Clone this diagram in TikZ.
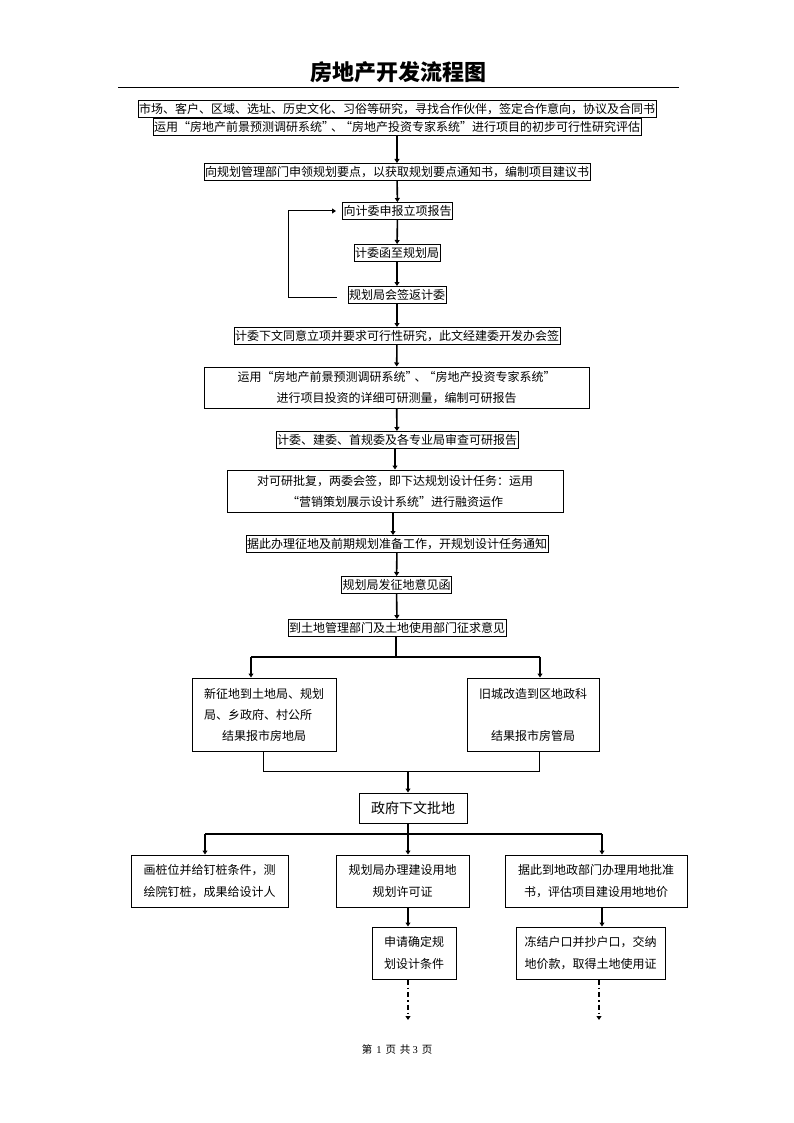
\documentclass[tikz,border=0pt]{standalone}
\usepackage{fontspec}
\usetikzlibrary{arrows.meta}
\newfontfamily\cjk{Noto Sans CJK SC}
\newfontfamily\serifnum{Liberation Serif}
\newcommand{\dunq}{”\kern-3pt、\kern-3pt“}
\begin{document}
\begin{tikzpicture}[x=1pt,y=-1pt,
  box/.style={draw,line width=1pt,inner xsep=1pt,inner ysep=0pt,minimum height=17pt,font=\cjk\fontsize{12}{14}\selectfont},
  bigbox/.style={draw,line width=1pt,inner sep=0pt,align=center,font=\cjk\fontsize{12}{21}\selectfont},
  lowbox/.style={draw,line width=1pt,inner sep=0pt,align=center,font=\cjk\fontsize{12}{22.5}\selectfont},
  arr/.style={line width=1.6pt,-{Triangle[length=4pt,width=5pt]}},
  thin/.style={line width=1pt},
  thinarr/.style={line width=1pt,-{Triangle[length=4pt,width=5pt]}},
  dasharr/.style={line width=1.6pt,dash pattern=on 5pt off 3pt on 1.5pt off 3pt,-{Triangle[length=4pt,width=5pt]}}]
\useasboundingbox[fill=white] (0,0) rectangle (794,1123);

\node[font=\cjk\bfseries\fontsize{22}{24}\selectfont] (title) at (398,72) {房地产开发流程图};
\coordinate (rl) at (118,87);
\coordinate (rr) at (679,87);
\draw[line width=0.9pt] (rl) -- (rr);

\node[box] (b1) at (397,109) {市场、客户、区域、选址、历史文化、习俗等研究，寻找合作伙伴，签定合作意向，协议及合同书};
\node[box] (b2) at (397,127) {运用“房地产前景预测调研系统\dunq 房地产投资专家系统”进行项目的初步可行性研究评估};
\node[box] (b3) at (397,172) {向规划管理部门申领规划要点，以获取规划要点通知书，编制项目建议书};
\node[box] (b4) at (397.5,211) {向计委申报立项报告};
\node[box] (b5) at (397,253) {计委函至规划局};
\node[box] (b6) at (397,295) {规划局会签返计委};
\node[box] (b7) at (397,336) {计委下文同意立项并要求可行性研究，此文经建委开发办会签};
\node[bigbox,minimum width=385pt,minimum height=41pt] (b8) at (396.5,387.5) {运用“房地产前景预测调研系统\dunq 房地产投资专家系统”\\进行项目投资的详细可研测量，编制可研报告};
\node[box] (b9) at (397,440) {计委、建委、首规委及各专业局审查可研报告};
\node[bigbox,minimum width=336pt,minimum height=42pt] (b10) at (395,491) {对可研批复，两委会签，即下达规划设计任务：运用\\“营销策划展示设计系统”进行融资运作};
\node[box] (b11) at (397,544) {据此办理征地及前期规划准备工作，开规划设计任务通知};
\node[box] (b12) at (396.5,585) {规划局发征地意见函};
\node[box] (b13) at (397,628) {到土地管理部门及土地使用部门征求意见};

\node[bigbox,align=left,minimum width=144pt,minimum height=73pt] (b14) at (264,714.5) {新征地到土地局、规划\\局、乡政府、村公所\\\hspace*{18pt}结果报市房地局};
\node[bigbox,minimum width=132pt,minimum height=73pt] (b15) at (533,714.5) {旧城改造到区地政科\\~\\结果报市房管局};
\node[draw,line width=1pt,inner sep=0pt,minimum width=108pt,minimum height=30pt,font=\cjk\fontsize{14}{16}\selectfont] (b16) at (413,808) {政府下文批地};

\node[lowbox,minimum width=157pt,minimum height=52pt] (b17) at (209.5,881) {画桩位并给钉桩条件，测\\绘院钉桩，成果给设计人};
\node[lowbox,minimum width=133pt,minimum height=52pt] (b18) at (402.5,881) {规划局办理建设用地\\规划许可证};
\node[lowbox,minimum width=182pt,minimum height=52pt] (b19) at (596,881) {据此到地政部门办理用地批准\\书，评估项目建设用地地价};
\node[lowbox,minimum width=84pt,minimum height=52pt] (b20) at (414,953) {申请确定规\\划设计条件};
\node[lowbox,minimum width=149pt,minimum height=52pt] (b21) at (590.5,953) {冻结户口并抄户口，交纳\\地价款，取得土地使用证};

\node[font=\cjk\fontsize{10.5}{12}\selectfont] (foot) at (397,1049) {第\hspace{4pt}{\serifnum 1}\hspace{4pt}页\hspace{4pt}共\hspace{2pt}{\serifnum 3}\hspace{4pt}页};

% main trunk
\draw[arr] (b2) -- (b3);
\draw[arr] (b3) -- (b4);
\draw[arr] (b4) -- (b5);
\draw[arr] (b5) -- (b6);
\draw[arr] (b6) -- (b7);
\draw[arr] (b7) -- (b8);
\draw[arr] (b8) -- (b9);
\draw[arr] ([xshift=-2pt]b9.south) -- ([xshift=-2pt]b9.south |- b10.north);
\draw[arr] ([xshift=-2pt]b10.south) -- ([xshift=-2pt]b10.south |- b11.north);
\draw[arr] (b11) -- (b12);
\draw[arr] (b12) -- (b13);

% loop
\coordinate (lpc) at (288,211);
\draw[thin] ([xshift=-11pt,yshift=-2pt]b6.west) -| (lpc);
\draw[thinarr] (lpc) -- ([xshift=-6pt]b4.west);

% first branch
\coordinate (j1) at (396,657);
\coordinate (j1l) at (251,657);
\coordinate (j1r) at (540,657);
\draw[line width=1.6pt] ([xshift=-1pt]b13.south) -- (j1);
\draw[line width=1.3pt] (j1l) -- (j1r);
\draw[arr] (j1l) -- (j1l |- b14.north);
\draw[arr] (j1r) -- (j1r |- b15.north);

% merge
\coordinate (m1l) at (263,771);
\coordinate (m1r) at (539,771);
\coordinate (m1) at (408,771);
\draw[thin] (m1l |- b14.south) -- (m1l) -- (m1r) -- (m1r |- b15.south);
\draw[arr] (m1) -- (m1 |- b16.north);

% second branch
\coordinate (j2) at (408,834);
\coordinate (j2l) at (205,834);
\coordinate (j2r) at (602,834);
\draw[line width=1.6pt] (j2 |- b16.south) -- (j2);
\draw[line width=1.3pt] (j2l) -- (j2r);
\draw[arr] (j2l) -- (j2l |- b17.north);
\draw[arr] (j2) -- (j2 |- b18.north);
\draw[arr] (j2r) -- (j2r |- b19.north);

% lower
\coordinate (d1) at (408,907);
\coordinate (d2) at (602,907);
\draw[arr] (d1 |- b18.south) -- (d1 |- b20.north);
\draw[arr] (d2 |- b19.south) -- (d2 |- b21.north);
\coordinate (e1) at (408,1020);
\coordinate (e2) at (599,1020);
\draw[dasharr] (e1 |- b20.south) -- (e1);
\draw[dasharr] (e2 |- b21.south) -- (e2);
\end{tikzpicture}
\end{document}
